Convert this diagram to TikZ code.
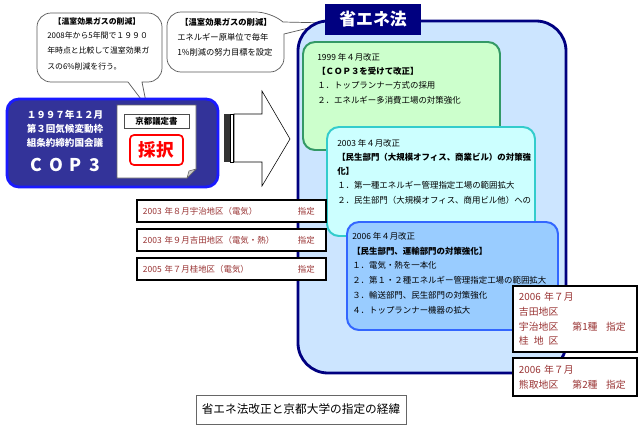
\documentclass[tikz,border=0pt]{standalone}
\usepackage{fontspec}
\setmainfont{Noto Sans CJK JP}
\definecolor{navy}{HTML}{000080}
\definecolor{outerblue}{HTML}{CCE5FF}
\definecolor{grnfill}{HTML}{CCFFCC}
\definecolor{grnline}{HTML}{339966}
\definecolor{cyanfill}{HTML}{CCFFFF}
\definecolor{cyanline}{HTML}{33CCCC}
\definecolor{bluefill}{HTML}{99CCFF}
\definecolor{blueline}{HTML}{3366FF}
\definecolor{copfill}{HTML}{333399}
\definecolor{copline}{HTML}{1A1AFF}
\definecolor{redtxt}{HTML}{993333}
\tikzset{
  callout/.style={draw=black!65, fill=white, line width=0.5pt},
  boxtext/.style={anchor=west, align=left, inner sep=0pt},
  datebox/.style={draw=black, line width=1.4pt, fill=white, text=redtxt,
    text width=4.425cm, inner xsep=0.15cm, minimum height=0.55cm, align=left,
    font=\fontsize{6}{8}\selectfont},
  sitebox/.style={draw=black, line width=1.4pt, fill=white, text=redtxt,
    text width=2.8cm, inner xsep=0.15cm, align=left,
    font=\fontsize{7}{10.4}\selectfont},
}

\begin{document}
\begin{tikzpicture}[x=0.025cm, y=-0.025cm]
	%%%%% START %%%%%
	\useasboundingbox (0,0) rectangle (640,429);

	% callouts
	\draw[callout] (147,107) -- (128,82) [rounded corners=0.35cm] -- (37,82) -- (37,13) -- (162,13) -- (162,82) [sharp corners] -- (142,82) -- cycle;
	\node[font=\fontsize{5.6}{7}\bfseries, inner sep=0] (ghg1) at (97,22) {【温室効果ガスの削減】};
	\node[boxtext, font=\fontsize{5.6}{10.7}\selectfont] (ghg1txt) at (47,51) {2008年から5年間で１９９０\\年時点と比較して温室効果ガ\\スの6\%削減を行う。};

	\draw[callout] (329,23) -- (284,34) [rounded corners=0.35cm] -- (284,72) -- (167,72) -- (167,12) -- (270,12) [sharp corners] -- (283,22) -- cycle;
	\node[font=\fontsize{5.9}{7}\bfseries, inner sep=0] (ghg2) at (226,22) {【温室効果ガスの削減】};
	\node[boxtext, font=\fontsize{5.9}{10.7}\selectfont] (ghg2txt) at (177,44.5) {エネルギー原単位で毎年\\1\%削減の努力目標を設定};

	% law boxes
	\draw[line width=2pt, draw=navy, fill=outerblue, rounded corners=0.75cm] (298,21) rectangle (566,373);
	\node[fill=navy, text=white, font=\fontsize{12}{14}\bfseries, minimum width=2.4cm, minimum height=0.775cm, inner sep=0] (law) at (373,19.5) {省エネ法};

	\draw[line width=1.4pt, draw=grnline, fill=grnfill, rounded corners=0.3cm] (303,42) rectangle (500,150);
	\node[boxtext, font=\fontsize{6}{10.2}\selectfont] (amd99) at (317,78.5) {1999 年４月改正\\\textbf{【ＣＯＰ３を受けて改正】}\\１．トップランナー方式の採用\\２．エネルギー多消費工場の対策強化};

	\draw[line width=1.4pt, draw=cyanline, fill=cyanfill, rounded corners=0.3cm] (327,127) rectangle (535,236);
	\node[boxtext, font=\fontsize{6}{10.1}\selectfont] (amd03) at (337,171.5) {2003 年４月改正\\\textbf{【民生部門（大規模オフィス、商業ビル）の対策強}\\\textbf{化】}\\１．第一種エネルギー管理指定工場の範囲拡大\\２．民生部門（大規模オフィス、商用ビル他）への};

	\draw[line width=1.4pt, draw=blueline, fill=bluefill, rounded corners=0.3cm] (347,222) rectangle (558,330);
	\node[boxtext, font=\fontsize{6}{10.5}\selectfont] (amd06) at (352,273) {2006 年４月改正\\\textbf{【民生部門、運輸部門の対策強化】}\\１．電気・熱を一本化\\２．第１・２種エネルギー管理指定工場の範囲拡大\\３．輸送部門、民生部門の対策強化\\４．トップランナー機器の拡大};

	% designations
	\node[datebox] (uji03) at (231.5,211) {2003 年８月宇治地区（電気）};
	\node[anchor=east, text=redtxt, font=\fontsize{6}{8}\selectfont, inner sep=0] (uji03s) at ([xshift=-0.3cm]uji03.east) {指定};
	\node[datebox] (yoshida03) at (231.5,240) {2003 年９月吉田地区（電気・熱）};
	\node[anchor=east, text=redtxt, font=\fontsize{6}{8}\selectfont, inner sep=0] (yoshida03s) at ([xshift=-0.3cm]yoshida03.east) {指定};
	\node[datebox] (katsura05) at (231.5,269) {2005 年７月桂地区（電気）};
	\node[anchor=east, text=redtxt, font=\fontsize{6}{8}\selectfont, inner sep=0] (katsura05s) at ([xshift=-0.3cm]katsura05.east) {指定};

	\node[sitebox, minimum height=1.65cm] (first06) at (575,319) {2006 年７月\\吉田地区\\宇治地区\hspace{10pt}第1種\hspace{6pt}指定\\桂\hspace{3.5pt}地\hspace{3.5pt}区};
	\node[sitebox, minimum height=0.95cm] (second06) at (575,377) {2006 年７月\\熊取地区\hspace{10pt}第2種\hspace{6pt}指定};

	% COP3
	\draw[line width=2pt, draw=copline, fill=copfill, rounded corners=0.3cm] (7,99) rectangle (218,187);
	\node[text=white, align=center, font=\fontsize{6.8}{10}\bfseries, inner sep=0] (cop) at (65,129) {１９９７年１２月\\第３回気候変動枠\\組条約締約国会議};
	\node[text=white, font=\fontsize{12.5}{14}\bfseries, inner sep=0] (copname) at (65,165) {C\hspace{5pt}O\hspace{5pt}P\hspace{5pt}3};

	\draw[draw=black!60, fill=white] (117,105) -- (196,105) -- (196,169) -- (187,178) -- (117,178) -- cycle;
	\draw[draw=black!60, fill=black!20] (196,169) -- (189,171) -- (187,178) -- cycle;
	\node[draw=black!70, line width=0.6pt, minimum width=1.625cm, minimum height=0.35cm, inner sep=0, font=\fontsize{6}{7}\bfseries] (kyoto) at (156.5,121) {京都議定書};
	\node[draw=red, line width=1.2pt, rounded corners=0.1cm, text=red, font=\fontsize{12.5}{14}\bfseries, minimum width=1.325cm, minimum height=0.75cm, inner sep=0] (adopt) at (156.5,150) {採択};

	% arrow
	\fill[black!80] (224,114) rectangle (230,162);
	\draw[fill=white] (230,114) rectangle (233,162);
	\draw[fill=white] (234,114) -- (262,114) -- (262,91) -- (290,139) -- (262,186) -- (262,162) -- (234,162) -- cycle;

	% caption
	\node[draw=black!60, line width=0.6pt, fill=white, minimum width=5.25cm, minimum height=0.725cm, font=\fontsize{8.3}{10}\selectfont] (caption) at (301,409.5) {省エネ法改正と京都大学の指定の経緯};

	%%%%% END %%%%%
\end{tikzpicture}
\end{document}
